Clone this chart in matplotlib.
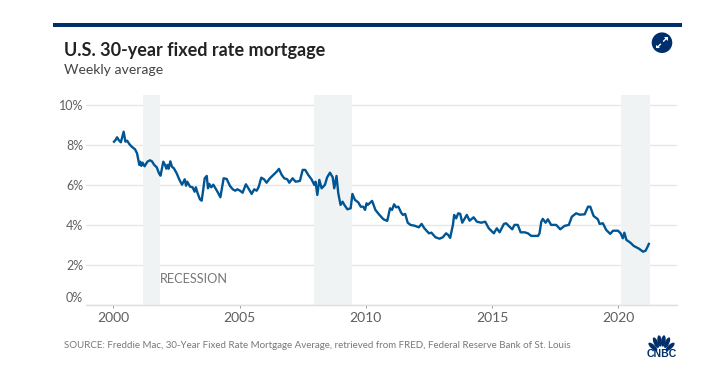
import matplotlib
matplotlib.use("Agg")
import matplotlib.pyplot as plt
from matplotlib.patches import Circle, Ellipse, Rectangle, Polygon
from matplotlib.transforms import ScaledTranslation

TITLE = "U.S. 30-year fixed rate mortgage"
SUBTITLE = "Weekly average"
SOURCE = "SOURCE: Freddie Mac, 30-Year Fixed Rate Mortgage Average, retrieved from FRED, Federal Reserve Bank of St. Louis"
recession_label = "RECESSION"
x_ticks = [2000, 2005, 2010, 2015, 2020]
y_ticks = [0, 2, 4, 6, 8, 10]
y_tick_labels = ["0%", "2%", "4%", "6%", "8%", "10%"]
recession_start = [2001.18, 2007.95, 2020.10]
recession_end = [2001.84, 2009.44, 2021.25]

years = [2000.03,2000.09,2000.15,2000.21,2000.30,2000.41,2000.48,2000.55,2000.63,2000.73,2000.86,2000.94,
2001.03,2001.07,2001.11,2001.16,2001.24,2001.35,2001.45,2001.53,2001.62,2001.72,2001.81,2001.87,2001.98,
2002.05,2002.10,2002.15,2002.19,2002.26,2002.32,2002.40,2002.51,2002.61,2002.72,2002.83,2002.88,2002.93,
2003.04,2003.14,2003.22,2003.27,2003.34,2003.43,2003.50,2003.56,2003.62,2003.70,2003.75,2003.80,2003.88,2003.96,
2004.07,2004.16,2004.24,2004.30,2004.37,2004.49,2004.62,2004.73,2004.83,2004.91,
2005.02,2005.12,2005.25,2005.35,2005.48,2005.58,2005.68,2005.76,2005.86,2005.97,
2006.07,2006.20,2006.34,2006.47,2006.56,2006.67,2006.77,2006.89,2006.97,
2007.10,2007.22,2007.39,2007.50,2007.60,2007.72,2007.85,2007.96,
2008.01,2008.08,2008.16,2008.25,2008.38,2008.47,2008.58,2008.69,2008.75,2008.84,2008.91,
2009.00,2009.08,2009.15,2009.27,2009.40,2009.47,2009.57,2009.70,2009.80,2009.90,2009.97,
2010.03,2010.08,2010.25,2010.38,2010.54,2010.70,2010.85,2010.96,
2011.04,2011.12,2011.20,2011.29,2011.40,2011.47,2011.56,2011.66,2011.77,2011.93,
2012.10,2012.21,2012.32,2012.50,2012.60,2012.76,2012.92,
2013.05,2013.18,2013.26,2013.34,2013.45,2013.50,2013.58,2013.66,2013.74,2013.82,
2014.00,2014.11,2014.27,2014.40,2014.57,2014.73,2014.87,
2015.07,2015.19,2015.30,2015.47,2015.56,2015.69,2015.80,2015.89,
2016.02,2016.13,2016.29,2016.42,2016.55,2016.82,2016.88,2016.95,
2017.01,2017.12,2017.21,2017.34,2017.54,2017.70,2017.87,
2018.04,2018.16,2018.33,2018.47,2018.67,2018.80,2018.89,
2019.02,2019.19,2019.26,2019.39,2019.52,2019.68,2019.79,2019.99,
2020.09,2020.18,2020.24,2020.32,2020.48,2020.61,2020.82,2020.98,
2021.08,2021.16,2021.21]

rates = [8.18,8.27,8.40,8.27,8.15,8.68,8.18,8.23,8.07,7.93,7.80,7.60,
7.02,7.18,6.97,7.13,6.95,7.18,7.25,7.20,7.02,6.90,6.60,6.48,7.18,
7.02,6.83,7.02,6.83,7.20,6.93,6.85,6.60,6.30,6.03,6.30,5.98,6.18,
5.93,5.90,5.68,5.90,5.60,5.30,5.23,5.77,6.35,6.47,5.85,6.07,5.90,6.03,
5.80,5.60,5.40,5.85,6.35,6.32,5.97,5.80,5.73,5.80,
5.73,5.63,6.05,5.85,5.57,5.80,5.73,5.93,6.38,6.30,
6.13,6.35,6.52,6.68,6.82,6.52,6.35,6.30,6.13,
6.35,6.18,6.22,6.77,6.77,6.52,6.30,6.02,
6.18,5.52,6.27,5.85,6.02,6.40,6.63,6.40,5.85,6.47,5.60,
5.02,5.18,5.02,4.80,4.85,5.57,5.27,5.15,4.93,4.93,4.77,
5.10,5.02,5.22,4.77,4.52,4.30,4.22,4.85,
4.77,5.05,4.90,4.93,4.63,4.52,4.57,4.13,4.02,3.98,
3.90,4.07,3.85,3.60,3.63,3.40,3.33,
3.40,3.60,3.52,3.37,4.02,4.52,4.35,4.60,4.57,4.13,
4.52,4.23,4.40,4.18,4.13,4.18,3.85,
3.60,3.85,3.65,4.07,4.10,3.93,3.80,4.02,
4.02,3.65,3.65,3.60,3.47,3.47,3.60,4.18,
4.32,4.13,4.30,4.02,4.02,3.80,3.97,
4.02,4.43,4.60,4.53,4.55,4.93,4.93,
4.47,4.30,4.07,4.10,3.77,3.57,3.73,3.73,
3.60,3.35,3.63,3.27,3.13,2.97,2.83,2.68,
2.73,2.93,3.07]

W, H = 706, 384
plt.rcParams["font.family"] = ["Lato", "DejaVu Sans"]
fig = plt.figure(figsize=(W / 100, H / 100), dpi=100, facecolor="white")

# main plot: pixel box 86..677 x 94.7..305.3
L, R, T, B = 86, 677, 94.7, 305.3
ax = fig.add_axes([L / W, 1 - B / H, (R - L) / W, (B - T) / H])
ppy = 25.25
ax.set_xlim(2000 + (L - 113.3) / ppy, 2000 + (R - 113.3) / ppy)
ax.set_ylim(0, 10.53)
for s in ["top", "left", "right"]:
    ax.spines[s].set_visible(False)
ax.spines["bottom"].set_color("#dcdfe0")
ax.spines["bottom"].set_linewidth(1)
ax.set_yticks(y_ticks)
ax.set_yticklabels(y_tick_labels, fontsize=9, color="#5f5f5f")
ax.set_xticks(x_ticks)
ax.set_xticklabels([str(v) for v in x_ticks], fontsize=10, color="#5f5f5f")
ax.tick_params(axis="y", length=0, pad=2)
ax.tick_params(axis="x", length=2, width=0.6, color="#888888", pad=3)
ax.grid(axis="y", color="#e6e8e8", lw=1)
ax.set_axisbelow(True)
for s, e in zip(recession_start, recession_end):
    ax.axvspan(s, e, color="#eff3f4", lw=0, zorder=1.5)
ax.plot(years, rates, color="#005594", lw=1.7, solid_joinstyle="round", zorder=3)
ax.get_yticklabels()[0].set_transform(
    ax.get_yticklabels()[0].get_transform() + ScaledTranslation(0, 6.2 / 72, fig.dpi_scale_trans)
)
ax.text(2001.84, 1.3, recession_label, fontsize=9.2, color="#77787b", va="center", ha="left", zorder=4)

# page furniture in pixel coordinates
ov = fig.add_axes([0, 0, 1, 1], facecolor="none")
ov.set_xlim(0, W)
ov.set_ylim(H, 0)
ov.axis("off")
ov.add_patch(Rectangle((53, 23), 629, 4, color="#002f6c", lw=0))
ov.text(64, 50.5, TITLE, fontsize=13.0, fontweight="bold", color="#222222", va="center", ha="left")
ov.text(64, 70, SUBTITLE, fontsize=10.1, color="#444444", va="center", ha="left")
ov.text(64, 345.5, SOURCE, fontsize=7, color="#77787b", va="center", ha="left")

# expand icon
cx, cy = 662, 42.7
ov.add_patch(Circle((cx, cy), 10.3, color="#002f6c", lw=0))
ov.plot([cx + 1.6, cx + 4.6], [cy - 1.6, cy - 4.6], color="white", lw=1.0)
ov.plot([cx - 1.6, cx - 4.6], [cy + 1.6, cy + 4.6], color="white", lw=1.0)
ov.add_patch(Polygon([(cx + 1.8, cy - 5.6), (cx + 5.6, cy - 5.6), (cx + 5.6, cy - 1.8)], color="white", lw=0))
ov.add_patch(Polygon([(cx - 1.8, cy + 5.6), (cx - 5.6, cy + 5.6), (cx - 5.6, cy + 1.8)], color="white", lw=0))

# CNBC peacock
px, py = 661.5, 351
for dx, dy, ang in [(-8.6, -4.2, 48), (-5.6, -8.3, 24), (-1.9, -10, 7), (1.9, -10, -7), (5.6, -8.3, -24), (8.6, -4.2, -48)]:
    ov.add_patch(Ellipse((px + dx, py + dy), 4.4, 11.5, angle=-ang, color="#002f6c", lw=0))
ov.text(px, 353.7, "CNBC", fontsize=7.6, fontweight="bold", color="#002f6c", va="center", ha="center",
        family=["Liberation Sans", "DejaVu Sans"])

fig.savefig("out.png", dpi=100)
